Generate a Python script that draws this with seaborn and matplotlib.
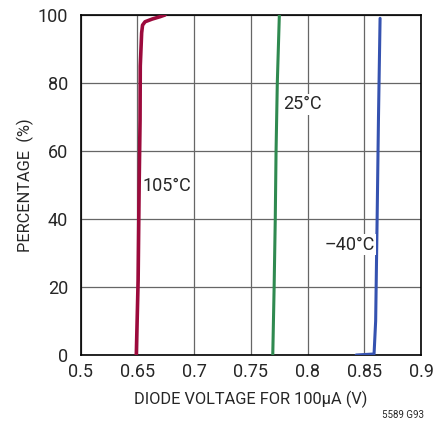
import numpy as np
import pandas as pd
import seaborn as sns
import matplotlib.pyplot as plt

# distribution of diode voltage at 100uA, three temperatures
V_105 = [0.6490, 0.6506, 0.6515, 0.6523, 0.6525, 0.6537, 0.6545, 0.6567, 0.6630, 0.6700, 0.6743]
P_105 = [0, 22, 50, 69, 85, 94.7, 97, 98, 98.8, 99.5, 100]

V_25 = [0.7693, 0.7705, 0.7715, 0.7722, 0.7733, 0.7751]
P_25 = [0, 20, 40, 60, 80, 100]

V_M40 = [0.8428, 0.8586, 0.8600, 0.8613, 0.8625, 0.8639]
P_M40 = [0, 0.3, 10, 40, 70, 99]

X_TICKS = [0.6, 0.65, 0.7, 0.75, 0.8, 0.85, 0.9]
X_TICKLABELS = ["0.5", "0.65", "0.7", "0.75", "0.8", "0.85", "0.9"]
Y_TICKS = [0, 20, 40, 60, 80, 100]

df = pd.concat([
    pd.DataFrame({"v": V_105, "pct": P_105, "temp": "105°C"}),
    pd.DataFrame({"v": V_25, "pct": P_25, "temp": "25°C"}),
    pd.DataFrame({"v": V_M40, "pct": P_M40, "temp": "–40°C"}),
], ignore_index=True)

colors = {"105°C": "#9c0a3c", "25°C": "#2f8a50", "–40°C": "#3552b0"}

sns.set_style("white")
plt.rcParams['font.family'] = ['Roboto', 'DejaVu Sans']

fig = plt.figure(figsize=(4.46, 4.24), dpi=100)
ax = fig.add_axes([0.181, 0.1627, 0.763, 0.802])

for temp, lw in [("105°C", 2.6), ("25°C", 2.2), ("–40°C", 2.2)]:
    sub = df[df["temp"] == temp]
    sns.lineplot(data=sub, x="v", y="pct", sort=False, estimator=None,
                 color=colors[temp], linewidth=lw, ax=ax, zorder=3)

ax.set_xlim(0.6, 0.9)
ax.set_ylim(0, 100)
ax.set_xticks(X_TICKS)
ax.set_xticklabels(X_TICKLABELS)
ax.set_yticks(Y_TICKS)
ax.tick_params(axis='x', labelsize=13, length=0, pad=6)
ax.tick_params(axis='y', labelsize=13, length=0, pad=9)

ax.grid(True, color="#666666", linewidth=0.9)
for s in ax.spines.values():
    s.set_color("black")
    s.set_linewidth(1.2)

ax.set_xlabel("DIODE VOLTAGE FOR 100µA (V)", fontsize=11.8, labelpad=7)
ax.set_ylabel("PERCENTAGE  (%)", fontsize=11.8, labelpad=3)

box = dict(facecolor="white", edgecolor="none", pad=1)
ax.text(0.6757, 49.7, "105°C", fontsize=13, ha="center", va="center", zorder=4)
ax.text(0.7956, 73.7, "25°C", fontsize=13, ha="center", va="center", bbox=box, zorder=4)
ax.text(0.8370, 32.4, "–40°C", fontsize=13, ha="center", va="center", bbox=box, zorder=4)

fig.text(0.904, 0.021, "5589 G93", fontsize=7, ha="center", va="center")

fig.savefig("out.png", dpi=100)
